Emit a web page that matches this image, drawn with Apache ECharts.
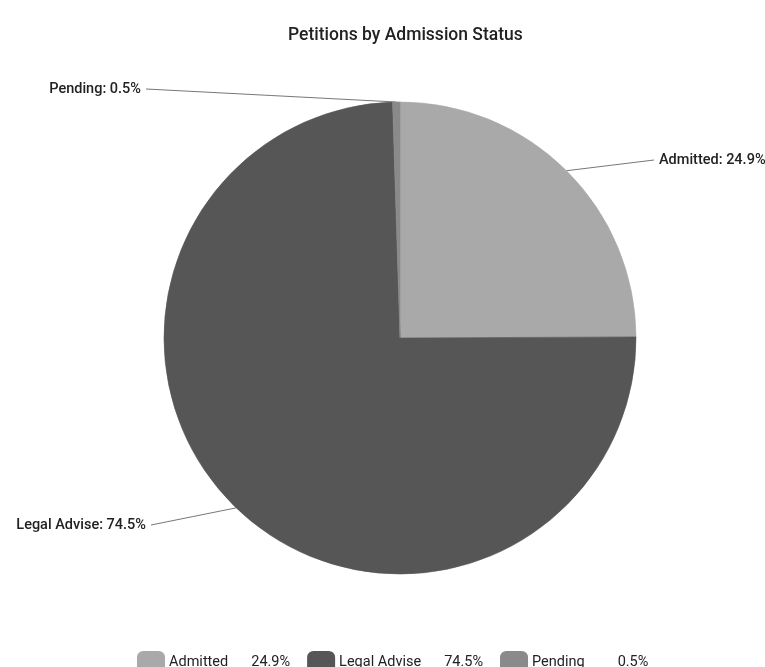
<!DOCTYPE html>
<html>
<head>
<meta charset="utf-8">
<script src="https://cdn.jsdelivr.net/npm/echarts@6/dist/echarts.min.js"></script>
<style>
html,body{margin:0;padding:0;background:#fff;}
#c{width:765px;height:667px;}
</style>
</head>
<body>
<div id="c"></div>
<script>
const categories = ['Admitted', 'Legal Advise', 'Pending'];
const percentages = [24.9, 74.5, 0.5];
const colors = ['#a9a9a9', '#565656', '#8a8a8a'];

const labelAnchors = {
  'Admitted': { x: 659, y: 160, align: 'left' },
  'Legal Advise': { x: 146, y: 525, align: 'right' },
  'Pending': { x: 141, y: 89, align: 'right' }
};

const chart = echarts.init(document.getElementById('c'));
const pieData = categories.map((c, i) => ({
  name: c, value: percentages[i],
  itemStyle: { color: colors[i], borderColor: colors[i], borderWidth: 0.6 }
}));

chart.setOption({
  animation: false,
  backgroundColor: '#ffffff',
  title: {
    text: 'Petitions by Admission Status',
    left: 283,
    top: 22,
    textStyle: { fontFamily: 'Roboto', fontSize: 17.5, fontWeight: 500, color: '#222' }
  },
  legend: {
    left: 132,
    top: 646,
    itemWidth: 26,
    itemHeight: 21,
    itemGap: 17,
    icon: 'roundRect',
    data: categories,
    formatter: function (name) {
      const i = categories.indexOf(name);
      const gap = name === 'Pending' ? 33 : 23;
      return '{n|' + name + '}{g' + gap + '|}{v|' + percentages[i].toFixed(1) + '%}';
    },
    textStyle: {
      fontFamily: 'Roboto', fontSize: 14.5, color: '#222',
      rich: {
        n: { fontFamily: 'Roboto', fontSize: 14.5, color: '#222' },
        v: { fontFamily: 'Roboto', fontSize: 14.5, color: '#222' },
        g23: { width: 23 },
        g33: { width: 33 }
      }
    }
  },
  series: [{
    type: 'pie',
    center: [400, 338],
    radius: 236,
    startAngle: 90,
    clockwise: true,
    data: pieData,
    label: {
      show: true,
      formatter: function (p) { return p.name + ': ' + p.value.toFixed(1) + '%'; },
      fontFamily: 'Roboto', fontSize: 14.5, fontWeight: 500, color: '#222'
    },
    labelLine: {
      show: true,
      length: 20, length2: 20,
      lineStyle: { color: '#777', width: 1 }
    },
    labelLayout: function (params) {
      const name = categories[params.dataIndex];
      const a = labelAnchors[name];
      const start = params.labelLinePoints ? params.labelLinePoints[0] : null;
      const endX = a.align === 'left' ? a.x - 5 : a.x + 5;
      const res = { x: a.x, y: a.y, align: a.align, verticalAlign: 'middle' };
      if (start) {
        res.labelLinePoints = [start, [(start[0] + endX) / 2, (start[1] + a.y) / 2], [endX, a.y]];
      }
      return res;
    }
  }]
});
</script>
</body>
</html>
